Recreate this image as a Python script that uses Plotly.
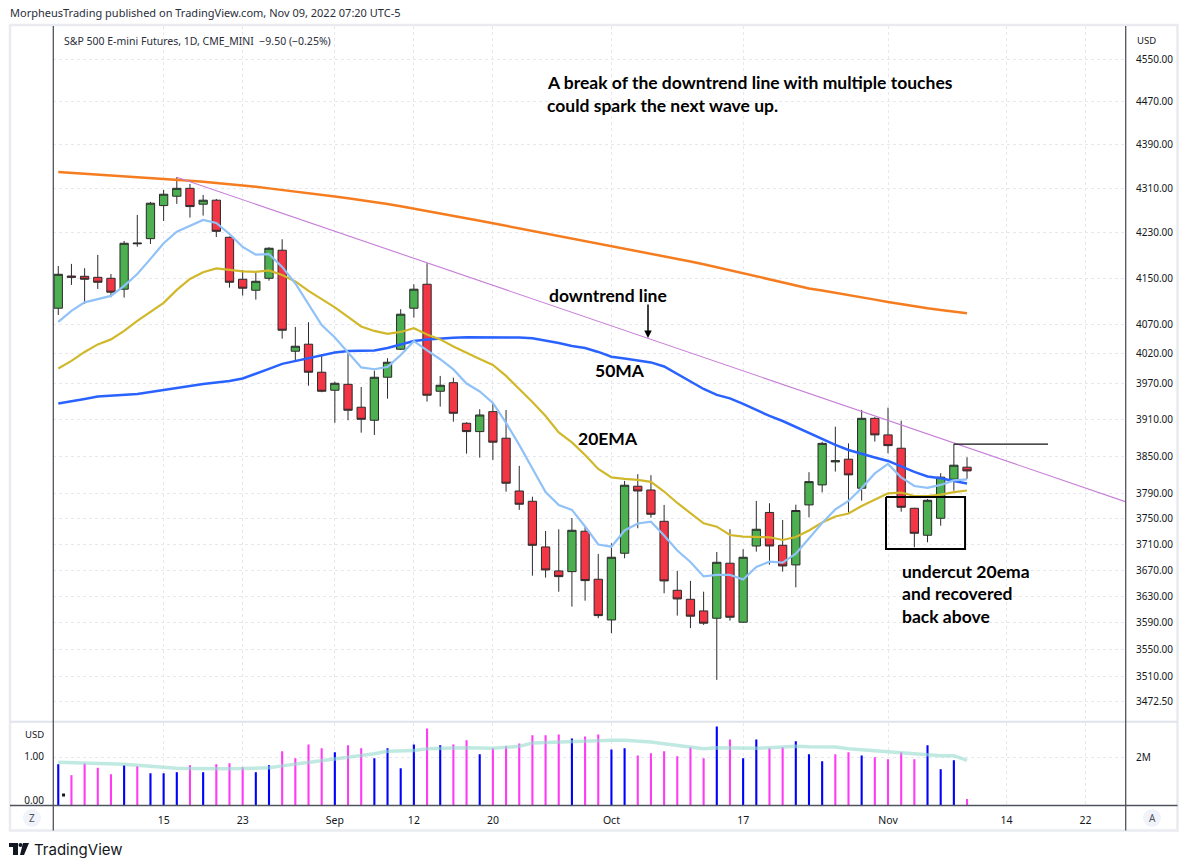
import math
import plotly.graph_objects as go

# ---------------- data ----------------
dates = [
    "2022-08-03","2022-08-04","2022-08-05","2022-08-08","2022-08-09","2022-08-10","2022-08-11","2022-08-12",
    "2022-08-15","2022-08-16","2022-08-17","2022-08-18","2022-08-19","2022-08-22","2022-08-23","2022-08-24",
    "2022-08-25","2022-08-26","2022-08-29","2022-08-30","2022-08-31","2022-09-01","2022-09-02","2022-09-06",
    "2022-09-07","2022-09-08","2022-09-09","2022-09-12","2022-09-13","2022-09-14","2022-09-15","2022-09-16",
    "2022-09-19","2022-09-20","2022-09-21","2022-09-22","2022-09-23","2022-09-26","2022-09-27","2022-09-28",
    "2022-09-29","2022-09-30","2022-10-03","2022-10-04","2022-10-05","2022-10-06","2022-10-07","2022-10-10",
    "2022-10-11","2022-10-12","2022-10-13","2022-10-14","2022-10-17","2022-10-18","2022-10-19","2022-10-20",
    "2022-10-21","2022-10-24","2022-10-25","2022-10-26","2022-10-27","2022-10-28","2022-10-31","2022-11-01",
    "2022-11-02","2022-11-03","2022-11-04","2022-11-07","2022-11-08","2022-11-09",
]
future_dates = ["2022-11-10","2022-11-11","2022-11-14","2022-11-15","2022-11-16","2022-11-17",
                "2022-11-18","2022-11-21","2022-11-22","2022-11-23","2022-11-25"]

open_ = [4097.6,4153.5,4153.0,4151.2,4149.5,4130.5,4211.7,4219.3,4278.4,4295.3,
         4309.6,4280.9,4288.1,4221.7,4147.8,4128.7,4149.5,4198.8,4024.1,4036.0,
         3988.7,3958.6,3968.5,3930.4,3908.9,3980.3,4027.5,4097.6,4139.1,3956.9,
         3971.2,3904.0,3890.3,3923.1,3879.5,3794.3,3777.9,3706.0,3668.8,3667.7,
         3730.6,3656.0,3593.9,3696.2,3801.9,3795.9,3746.2,3639.1,3625.3,3607.6,
         3596.5,3680.7,3590.5,3707.5,3760.2,3708.6,3678.1,3772.1,3804.0,3841.0,
         3845.4,3798.7,3912.1,3884.9,3863.2,3766.8,3724.3,3751.0,3813.2,3832.5]
high = [4171.0,4174.7,4167.1,4190.5,4157.1,4215.2,4261.6,4285.0,4306.6,4329.8,
        4317.5,4297.6,4290.4,4223.0,4164.1,4160.6,4204.1,4218.2,4065.4,4073.5,
        4019.0,3972.9,4020.7,3964.0,3991.4,4012.3,4095.9,4139.1,4175.9,3982.5,
        3979.6,3905.6,3927.1,3937.0,3925.9,3834.6,3785.2,3731.0,3733.7,3751.4,
        3737.8,3695.1,3711.7,3810.4,3821.2,3819.6,3772.1,3668.8,3653.4,3636.9,
        3698.2,3733.7,3702.4,3778.4,3774.8,3748.3,3772.5,3824.4,3873.7,3898.4,
        3871.1,3925.9,3914.0,3929.7,3908.2,3767.5,3781.6,3822.8,3870.0,3848.6]
low = [4086.1,4137.9,4105.1,4131.0,4116.6,4116.0,4205.1,4209.9,4250.8,4281.4,
       4256.8,4260.4,4222.2,4133.2,4119.4,4112.5,4145.3,4045.5,4007.7,3966.2,
       3955.3,3904.9,3908.9,3888.6,3884.9,3944.6,4026.3,4081.4,3939.7,3931.4,
       3906.6,3854.4,3847.9,3844.2,3793.2,3764.2,3661.5,3658.5,3636.9,3614.1,
       3623.2,3596.6,3574.0,3688.4,3735.3,3751.9,3634.5,3600.5,3581.5,3586.4,
       3504.4,3592.9,3589.5,3698.7,3678.5,3667.7,3643.5,3752.5,3792.2,3825.4,
       3758.9,3778.9,3874.0,3855.0,3761.4,3705.5,3713.3,3739.3,3794.8,3813.7]
close = [4156.5,4151.2,4147.8,4142.6,4125.3,4211.1,4210.4,4282.7,4298.9,4309.6,
         4276.6,4288.1,4232.3,4142.6,4132.2,4144.3,4202.3,4059.8,4032.6,3988.7,
         3956.9,3970.2,3925.4,3910.5,3980.3,4005.5,4087.3,4130.5,3950.3,3966.9,
         3920.4,3890.3,3917.6,3873.0,3806.7,3773.2,3708.6,3670.3,3660.0,3732.1,
         3653.9,3600.5,3690.0,3803.5,3794.3,3757.3,3653.4,3625.8,3599.6,3589.0,
         3682.2,3598.0,3690.0,3733.7,3707.5,3676.5,3763.3,3809.3,3871.1,3843.0,
         3820.1,3912.1,3884.9,3867.4,3768.4,3727.4,3779.5,3816.4,3835.7,3826.5]

ema10 = [4074.0,4093.1,4107.7,4113.7,4118.9,4136.2,4157.1,4183.5,4211.1,4231.6,
         4242.8,4252.6,4247.2,4227.5,4204.6,4190.9,4191.8,4169.4,4140.5,4103.3,
         4068.8,4047.5,4022.9,3996.8,3993.7,3997.6,4017.8,4041.1,4025.4,4010.6,
         3993.4,3969.8,3956.6,3937.5,3904.5,3868.6,3830.5,3792.7,3772.1,3764.2,
         3738.1,3709.8,3706.4,3731.8,3742.8,3745.6,3724.0,3700.5,3682.7,3660.3,
         3662.6,3662.6,3655.7,3675.0,3683.2,3681.6,3695.4,3720.0,3743.6,3765.0,
         3778.4,3799.2,3822.5,3837.8,3816.0,3802.3,3799.2,3804.0,3811.2,3813.0]
ema20 = [3995.1,4007.7,4022.9,4035.7,4044.2,4058.6,4075.7,4091.2,4106.8,4129.3,
         4148.3,4160.0,4166.9,4164.1,4161.5,4160.6,4163.3,4155.3,4144.0,4127.5,
         4113.7,4099.0,4082.6,4066.3,4058.6,4053.5,4056.9,4063.2,4052.6,4044.2,
         4032.2,4021.2,4011.1,4001.0,3982.5,3960.7,3939.2,3915.9,3889.0,3872.7,
         3852.3,3829.7,3816.0,3813.6,3812.0,3808.8,3793.5,3775.2,3759.4,3743.1,
         3737.8,3724.7,3722.1,3722.1,3721.1,3716.9,3721.6,3731.8,3744.4,3753.8,
         3758.6,3770.5,3780.8,3790.6,3791.8,3786.3,3786.0,3788.4,3792.4,3795.1]
sma50 = [3936.7,3940.0,3944.2,3948.3,3949.9,3950.8,3952.4,3955.7,3959.1,3962.4,
         3966.5,3969.0,3971.5,3974.0,3978.3,3985.8,3994.3,4002.7,4007.7,4012.8,
         4017.8,4022.1,4024.6,4025.1,4025.5,4029.7,4035.6,4041.6,4044.1,4046.2,
         4047.2,4047.9,4047.9,4047.9,4047.9,4047.5,4046.2,4042.4,4038.2,4033.1,
         4029.7,4022.9,4014.9,4011.9,4008.5,4005.2,3998.4,3985.8,3972.3,3960.7,
         3950.8,3945.0,3935.9,3925.9,3916.0,3907.7,3898.0,3887.4,3877.6,3868.6,
         3860.4,3853.9,3848.2,3842.6,3833.7,3824.9,3817.6,3814.7,3810.4,3806.4]
sma200 = [4339.5,4338.0,4336.5,4335.0,4333.5,4332.0,4330.5,4329.0,4327.5,4325.5,
          4323.5,4321.5,4319.5,4317.5,4315.0,4312.5,4309.5,4306.8,4304.0,4301.3,
          4298.0,4294.9,4291.7,4288.4,4285.4,4281.2,4277.1,4273.0,4268.8,4264.7,
          4260.2,4255.7,4251.2,4246.7,4242.2,4237.7,4233.3,4228.8,4224.4,4220.0,
          4215.6,4211.2,4206.8,4202.4,4197.7,4193.0,4188.4,4183.6,4179.0,4174.2,
          4168.9,4163.4,4158.1,4152.6,4147.2,4141.9,4136.7,4131.9,4128.1,4124.5,
          4120.7,4116.5,4112.4,4108.3,4104.3,4100.4,4097.4,4094.5,4091.5,4089.0]

volume_m = [1.71,1.25,1.74,1.56,1.29,1.67,1.63,1.33,1.33,1.375,
            1.67,1.375,1.71,1.75,1.58,1.375,1.67,2.25,1.96,2.54,
            2.375,2.21,2.5,2.375,1.96,2.375,1.54,2.54,3.21,2.5,
            2.54,2.71,2.125,2.375,2.46,2.58,2.92,2.92,2.96,2.79,
            2.875,2.96,2.33,2.375,2.08,2.17,2.25,2.04,2.42,1.96,
            3.29,2.75,1.96,2.75,2.375,2.42,2.67,2.125,1.83,2.125,
            2.21,2.08,2.0,1.92,2.21,1.92,2.5,1.5,1.875,0.25]
volume_ma_m = [1.79,1.78,1.76,1.75,1.74,1.71,1.67,1.625,1.57,1.54,
               1.53,1.52,1.51,1.52,1.53,1.53,1.56,1.64,1.71,1.79,
               1.86,1.94,2.01,2.08,2.15,2.25,2.25,2.28,2.36,2.39,
               2.39,2.40,2.39,2.375,2.42,2.46,2.60,2.625,2.64,2.65,
               2.68,2.71,2.72,2.72,2.69,2.64,2.57,2.50,2.42,2.36,
               2.40,2.39,2.35,2.375,2.40,2.42,2.46,2.44,2.43,2.43,
               2.36,2.31,2.29,2.22,2.19,2.15,2.11,2.07,2.07,1.875]
# small left-scale indicator in the volume pane (one visible dot)
indicator_slot = [0.4]
indicator_value = [0.115]

price_ticks = [4550, 4470, 4390, 4310, 4230, 4150, 4070, 4020, 3970, 3910, 3850,
               3790, 3750, 3710, 3670, 3630, 3590, 3550, 3510, 3472.5]
price_range = [3443.3, 4614.2]
tick_dates = ["2022-08-15","2022-08-23","2022-09-01","2022-09-12","2022-09-20",
              "2022-10-03","2022-10-17","2022-11-01","2022-11-14","2022-11-22"]
tick_text = ["15","23","Sep","12","20","Oct","17","Nov","14","22"]

# drawing objects by the author
trend_anchor_dates = ["2022-08-16", "2022-10-31"]
trend_anchor_prices = [4329.8, 3916.0]
box_slots = [62.85, 68.85]
box_prices = [3702.9, 3784.8]
hline_date = "2022-11-08"
hline_end_slot = 75.15

# ---------------- helpers ----------------
all_dates = dates + future_dates
pos = {d: i for i, d in enumerate(all_dates)}
xs = [pos[d] for d in dates]
x_range = [-0.40, 81.07]

L, R, T, B = 53, 1126, 26, 806
W, H = R - L, B - T
def px(x):
    return (x - L) / W
def py(y):
    return (B - y) / H

GREEN = "#4caf50"
RED = "#f23645"
EDGE = "#2b2b2b"
FONT = "Noto Sans"

fig = go.Figure()

# moving averages
fig.add_trace(go.Scatter(x=xs, y=sma200, mode="lines", line=dict(color="#f57c1f", width=2.5),
                         xaxis="x", yaxis="y", hoverinfo="skip"))
fig.add_trace(go.Scatter(x=xs, y=sma50, mode="lines", line=dict(color="#2962ff", width=2.5),
                         xaxis="x", yaxis="y", hoverinfo="skip"))
fig.add_trace(go.Scatter(x=xs, y=ema20, mode="lines", line=dict(color="#d1b82b", width=2.2),
                         xaxis="x", yaxis="y", hoverinfo="skip"))
fig.add_trace(go.Scatter(x=xs, y=ema10, mode="lines", line=dict(color="#90c2f7", width=2.2),
                         xaxis="x", yaxis="y", hoverinfo="skip"))

# trend line (straight in log space) extended to the right edge
i0, i1 = pos[trend_anchor_dates[0]], pos[trend_anchor_dates[1]]
l0, l1 = math.log(trend_anchor_prices[0]), math.log(trend_anchor_prices[1])
slope = (l1 - l0) / (i1 - i0)
t_end = x_range[1]
fig.add_trace(go.Scatter(x=[i0, t_end], y=[trend_anchor_prices[0], math.exp(l0 + slope * (t_end - i0))],
                         mode="lines", line=dict(color="#c77dd8", width=1.1),
                         xaxis="x", yaxis="y", hoverinfo="skip", cliponaxis=True))

# candles
fig.add_trace(go.Candlestick(
    x=xs, open=open_, high=high, low=low, close=close, xaxis="x", yaxis="y",
    increasing=dict(line=dict(color=EDGE, width=1), fillcolor=GREEN),
    decreasing=dict(line=dict(color=EDGE, width=1), fillcolor=RED),
    whiskerwidth=0, hoverinfo="skip"))

# horizontal line at Nov 8 high
hi = pos[hline_date]
fig.add_trace(go.Scatter(x=[hi, hline_end_slot], y=[high[hi], high[hi]], mode="lines",
                         line=dict(color="#111111", width=1.2), xaxis="x", yaxis="y", hoverinfo="skip"))

# box
fig.add_trace(go.Scatter(x=[box_slots[0], box_slots[1], box_slots[1], box_slots[0], box_slots[0]],
                         y=[box_prices[1], box_prices[1], box_prices[0], box_prices[0], box_prices[1]],
                         mode="lines", line=dict(color="#000000", width=2), xaxis="x", yaxis="y",
                         hoverinfo="skip"))

# volume
vol_colors = ["#0000ff" if (i == 0 or close[i] >= close[i - 1]) else "#ff3cf5" for i in range(len(close))]
fig.add_trace(go.Bar(x=xs, y=[v * 1e6 for v in volume_m], marker=dict(color=vol_colors, line=dict(width=0)),
                     width=0.16, xaxis="x", yaxis="y2", hoverinfo="skip"))
fig.add_trace(go.Scatter(x=xs, y=[v * 1e6 for v in volume_ma_m], mode="lines",
                         line=dict(color="rgba(150,220,205,0.6)", width=3.5), xaxis="x", yaxis="y2",
                         hoverinfo="skip"))
fig.add_trace(go.Scatter(x=indicator_slot, y=indicator_value, mode="markers",
                         marker=dict(symbol="square", size=3, color="#131722"), xaxis="x", yaxis="y3",
                         hoverinfo="skip"))

grid = "#e6e8ee"
fig.update_layout(
    width=1189, height=866,
    margin=dict(l=L, r=1189 - R, t=T, b=866 - B),
    paper_bgcolor="#ffffff", plot_bgcolor="#ffffff",
    showlegend=False,
    boxgap=0.3, boxgroupgap=0.1,
    font=dict(family=FONT, size=10.5, color="#131722"),
    xaxis=dict(range=x_range, anchor="y2", tickmode="array", tickvals=[pos[d] for d in tick_dates],
               ticktext=tick_text, showgrid=True, gridcolor=grid, griddash="dot", gridwidth=1,
               zeroline=False, showline=False, ticks="", ticklabelstandoff=6,
               tickfont=dict(size=10.5, color="#131722", family=FONT),
               rangeslider=dict(visible=False), fixedrange=True),
    yaxis=dict(type="log", domain=[(B - 721.7) / H, 1.0],
               range=[math.log10(price_range[0]), math.log10(price_range[1])],
               side="right", tickmode="array", tickvals=price_ticks,
               ticktext=[f"{v:.2f}" for v in price_ticks],
               showgrid=True, gridcolor=grid, griddash="dot", gridwidth=1,
               zeroline=False, showline=False, ticks="", ticklabelstandoff=9,
               tickfont=dict(size=10, color="#131722", family=FONT)),
    yaxis2=dict(domain=[0.0, (B - 722.5) / H], range=[-0.042e6, 3.459e6], side="right",
                tickmode="array", tickvals=[2e6], ticktext=["2M"], showgrid=True, gridcolor=grid,
                griddash="dot", zeroline=False, showline=False, ticks="", ticklabelstandoff=9,
                tickfont=dict(size=10, color="#131722", family=FONT)),
    yaxis3=dict(overlaying="y2", anchor="x", range=[-0.1386, 1.79], side="left", tickmode="array",
                tickvals=[0, 1], ticktext=["0.00", "1.00"], showgrid=False, zeroline=False,
                showline=False, ticks="", ticklabelstandoff=8, showticklabels=True,
                tickfont=dict(size=10, color="#131722", family=FONT)),
)

shapes = []
# outer frame
shapes.append(dict(type="rect", xref="paper", yref="paper", x0=px(10), x1=px(1177.5), y0=py(830.5), y1=py(25),
                   line=dict(color="#e9ebf0", width=2.5), layer="below"))
# pane separator
shapes.append(dict(type="line", xref="paper", yref="paper", x0=px(10), x1=px(1177.5), y0=py(721.7), y1=py(721.7),
                   line=dict(color="#e0e3eb", width=2)))
# time axis line
shapes.append(dict(type="line", xref="paper", yref="paper", x0=px(10), x1=px(1177.5), y0=py(805.5), y1=py(805.5),
                   line=dict(color="#50535e", width=1.3)))
# left and right scale borders
shapes.append(dict(type="line", xref="paper", yref="paper", x0=px(53.3), x1=px(53.3), y0=py(830.5), y1=py(26),
                   line=dict(color="#50535e", width=1.3)))
shapes.append(dict(type="line", xref="paper", yref="paper", x0=px(1125.7), x1=px(1125.7), y0=py(830.5), y1=py(26),
                   line=dict(color="#50535e", width=1.3)))
# Z and A buttons
for cx in (32, 1152):
    shapes.append(dict(type="circle", xref="paper", yref="paper", x0=px(cx - 9), x1=px(cx + 9),
                       y0=py(818 + 9), y1=py(818 - 9), line=dict(width=0), fillcolor="#f0f3fa"))
# TradingView logo glyph
shapes.append(dict(type="rect", xref="paper", yref="paper", x0=px(9), x1=px(18), y0=py(847), y1=py(843),
                   line=dict(width=0), fillcolor="#131722"))
shapes.append(dict(type="rect", xref="paper", yref="paper", x0=px(13), x1=px(18), y0=py(855), y1=py(843),
                   line=dict(width=0), fillcolor="#131722"))
shapes.append(dict(type="circle", xref="paper", yref="paper", x0=px(18.5), x1=px(22.5), y0=py(847), y1=py(843),
                   line=dict(width=0), fillcolor="#131722"))
shapes.append(dict(type="path", xref="paper", yref="paper",
                   path=f"M {px(23)} {py(843)} L {px(29)} {py(843)} L {px(24)} {py(855)} L {px(20)} {py(855)} Z",
                   line=dict(width=0), fillcolor="#131722"))
fig.update_layout(shapes=shapes)

ann = []
def text(x, y, s, size=10.5, color="#131722", family=FONT, xanchor="left", bold=False):
    ann.append(dict(xref="paper", yref="paper", x=px(x), y=py(y), text=(f"<b>{s}</b>" if bold else s),
                    showarrow=False, xanchor=xanchor, yanchor="middle",
                    font=dict(size=size, color=color, family=family)))

text(8, 12, "MorpheusTrading published on TradingView.com, Nov 09, 2022 07:20 UTC-5", size=11, color="#2a2e39")
text(62, 41, "S&amp;P 500 E-mini Futures, 1D, CME_MINI  \u22129.50 (\u22120.25%)", size=10.5, color="#2a2e39")
text(1135, 40, "USD", size=9.5)
text(23, 734, "USD", size=9.5)
text(32, 818, "Z", size=10, color="#50535e", xanchor="center")
text(1152, 818, "A", size=10, color="#50535e", xanchor="center")
text(32, 849, "TradingView", size=15, color="#131722", family="Inter")

ANN_FONT = "Lato"
AS = 17.5
text(545, 83, "A break of the downtrend line with multiple touches", size=AS, color="#000000", family=ANN_FONT, bold=True)
text(545, 106, "could spark the next wave up.", size=AS, color="#000000", family=ANN_FONT, bold=True)
text(547, 295, "downtrend line", size=AS, color="#000000", family=ANN_FONT, bold=True)
text(593, 370, "50MA", size=AS, color="#000000", family=ANN_FONT, bold=True)
text(576, 438, "20EMA", size=AS, color="#000000", family=ANN_FONT, bold=True)
text(900, 571, "undercut 20ema", size=AS, color="#000000", family=ANN_FONT, bold=True)
text(900, 593.5, "and recovered", size=AS, color="#000000", family=ANN_FONT, bold=True)
text(900, 616, "back above", size=AS, color="#000000", family=ANN_FONT, bold=True)

ann.append(dict(xref="paper", yref="paper", x=px(648), y=py(338), ax=0, ay=-35, axref="pixel", ayref="pixel",
                text="", showarrow=True, arrowhead=2, arrowsize=1, arrowwidth=1.5, arrowcolor="#000000"))
fig.update_layout(annotations=ann)

fig.write_html("out.html")
